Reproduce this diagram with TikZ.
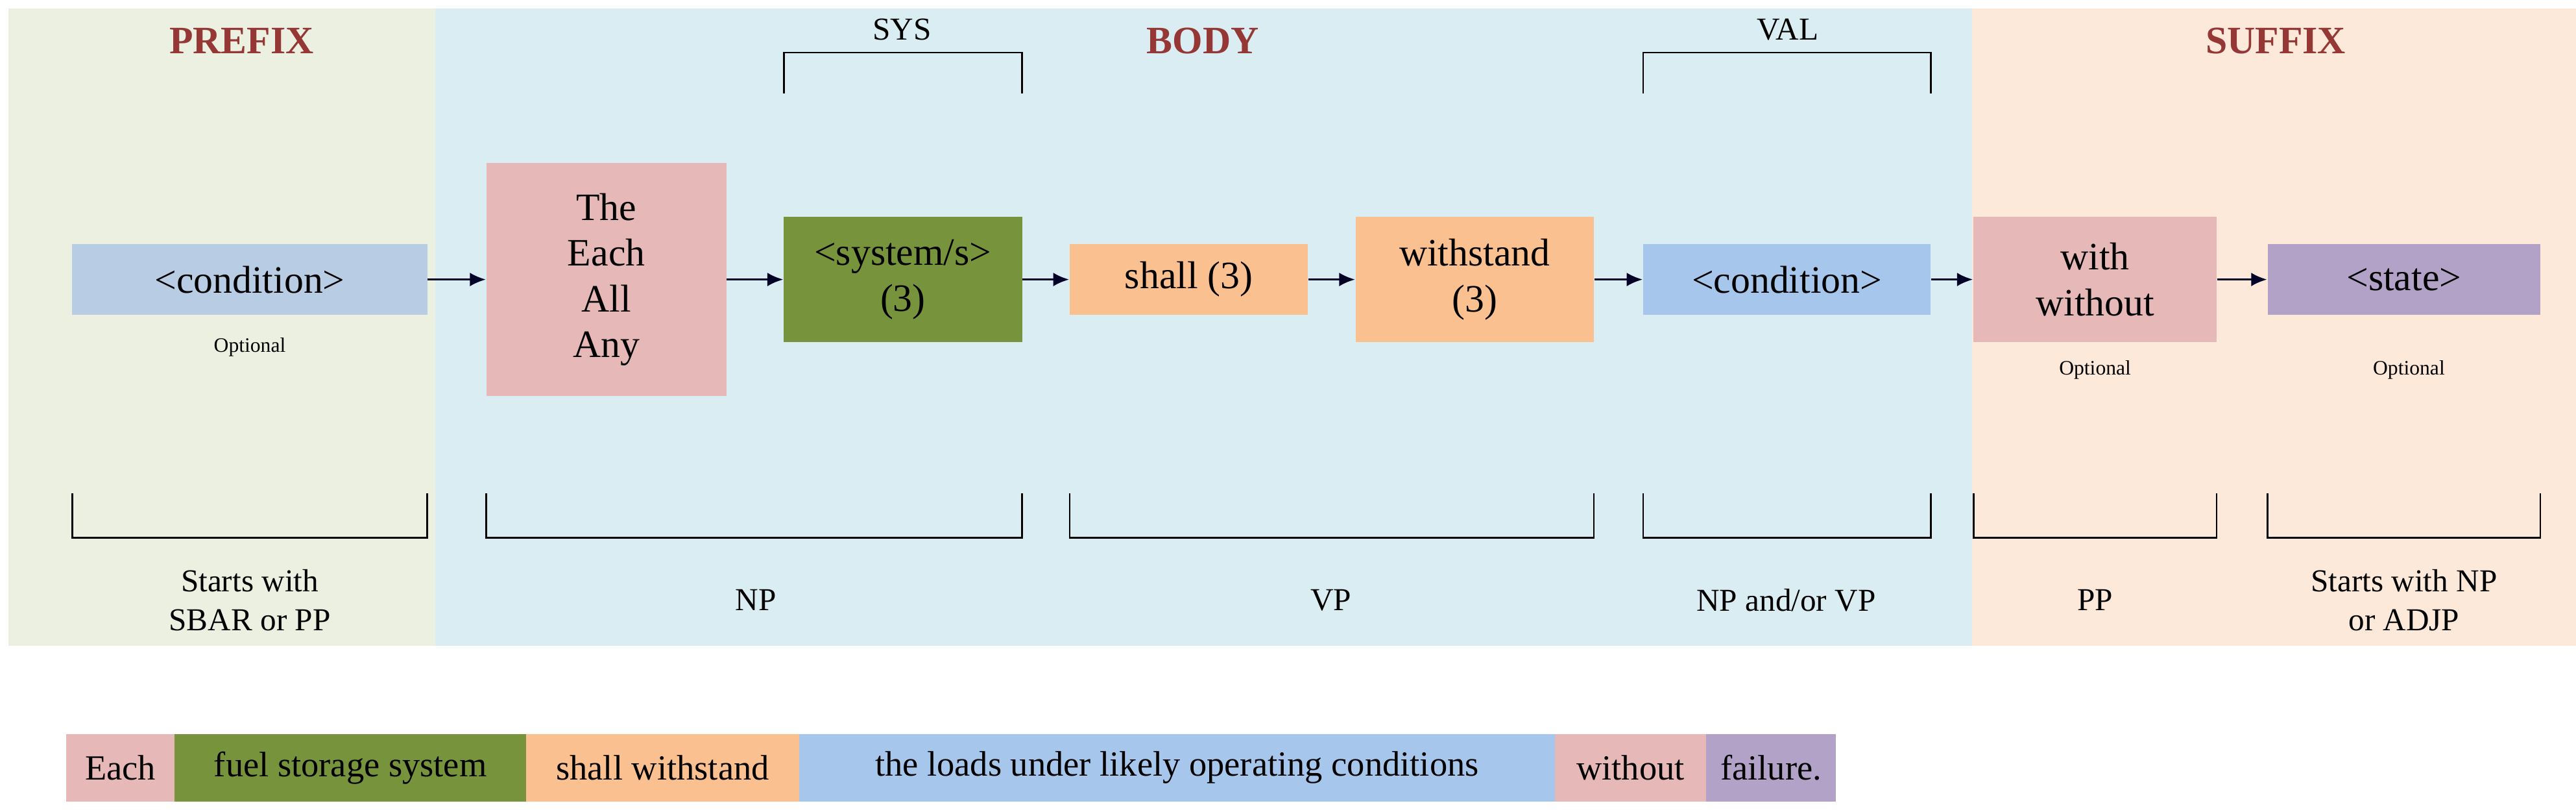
\documentclass[tikz,border=0pt]{standalone}
\usepackage{fontspec}
\setmainfont{Liberation Serif}
\usetikzlibrary{arrows.meta}
\definecolor{pg}{HTML}{EBF0E0}
\definecolor{pb}{HTML}{DAEDF3}
\definecolor{ps}{HTML}{FDE9DA}
\definecolor{tr}{HTML}{953735}
\definecolor{cb}{HTML}{B8CCE4}
\definecolor{cb2}{HTML}{A7C6EC}
\definecolor{cp}{HTML}{E6B8B7}
\definecolor{cg}{HTML}{77933C}
\definecolor{co}{HTML}{FAC090}
\definecolor{cv}{HTML}{B3A2C7}
\begin{document}
\begin{tikzpicture}[x=0.02533cm,y=-0.02533cm,
 box/.style={inner sep=0pt,font=\fontsize{17}{20}\selectfont,align=center},
 ttl/.style={font=\fontsize{17}{20}\selectfont\bfseries,text=tr},
 lab/.style={font=\fontsize{14}{17}\selectfont,align=center},
 opt/.style={font=\fontsize{9}{11}\selectfont},
 arr/.style={-{Latex[length=7pt,width=6pt]},line width=1pt,draw=black!85!blue},
 br/.style={line width=0.8pt},
 seg/.style={inner sep=0pt,font=\fontsize{15.5}{18}\selectfont,anchor=west,minimum height=41*0.02533cm}]
\useasboundingbox (0,0) rectangle (1567.7,493.5);
\fill[pg] (5,5) rectangle (265,393);
\fill[pb] (265,5) rectangle (1200,393);
\fill[ps] (1200,5) rectangle (1568,393);
\node[ttl] (t1) at (147,25) {PREFIX};
\node[ttl] (t2) at (732,25) {BODY};
\node[ttl] (t3) at (1385,25) {SUFFIX};
\node[lab] (sys) at (549,18) {SYS};
\node[lab] (val) at (1088,18) {VAL};
\draw[br] (477,57) -- (477,32) -- (622,32) -- (622,57);
\draw[br] (1000,57) -- (1000,32) -- (1175,32) -- (1175,57);
% boxes
\node[box,fill=cb,minimum width=216*0.02533cm,minimum height=43*0.02533cm] (c1) at (152,170) {<condition>};
\node[box,fill=cp,minimum width=146*0.02533cm,minimum height=142*0.02533cm] (det) at (369,170) {The\\Each\\All\\Any};
\node[box,fill=cg,minimum width=145*0.02533cm,minimum height=76*0.02533cm] (sy) at (549.5,170) {<system/s>\\(3)};
\node[box,fill=co,minimum width=145*0.02533cm,minimum height=43*0.02533cm] (sh) at (723.5,170) {shall (3)};
\node[box,fill=co,minimum width=145*0.02533cm,minimum height=76*0.02533cm] (ws) at (897.5,170) {withstand\\(3)};
\node[box,fill=cb2,minimum width=175*0.02533cm,minimum height=43*0.02533cm] (c2) at (1087.5,170) {<condition>};
\node[box,fill=cp,minimum width=148*0.02533cm,minimum height=76*0.02533cm] (ww) at (1275,170) {with\\without};
\node[box,fill=cv,minimum width=166*0.02533cm,minimum height=43*0.02533cm] (st) at (1463,170) {<state>};
\node[opt] (o1) at (152,211) {Optional};
\node[opt] (o2) at (1275,225) {Optional};
\node[opt] (o3) at (1466,225) {Optional};
\draw[arr] (c1) -- (det);
\draw[arr] (det) -- (sy);
\draw[arr] (sy) -- (sh);
\draw[arr] (sh) -- (ws);
\draw[arr] (ws) -- (c2);
\draw[arr] (c2) -- (ww);
\draw[arr] (ww) -- (st);
% bottom brackets
\foreach \a/\b in {44/260,296/622,651/970,1000/1175,1201/1349,1380/1546}
  \draw[br] (\a,300) -- (\a,327) -- (\b,327) -- (\b,300);
\node[lab] (l1) at (152,365) {Starts with\\SBAR or PP};
\node[lab] (l2) at (460,365) {NP};
\node[lab] (l3) at (810,365) {VP};
\node[lab] (l4) at (1087,365) {NP and/or VP};
\node[lab] (l5) at (1275,365) {PP};
\node[lab] (l6) at (1463,365) {Starts with NP\\or ADJP};
% sentence
\node[seg,fill=cp,minimum width=66*0.02533cm] (s1) at (40,467) {Each};
\node[seg,fill=cg,minimum width=214*0.02533cm] (s2) at (106,467) {fuel storage system};
\node[seg,fill=co,minimum width=166*0.02533cm] (s3) at (320,467) {shall withstand};
\node[seg,fill=cb2,minimum width=460*0.02533cm] (s4) at (486,467) {the loads under likely operating conditions};
\node[seg,fill=cp,minimum width=92*0.02533cm] (s5) at (946,467) {without};
\node[seg,fill=cv,minimum width=79*0.02533cm] (s6) at (1038,467) {failure.};
\end{tikzpicture}
\end{document}
